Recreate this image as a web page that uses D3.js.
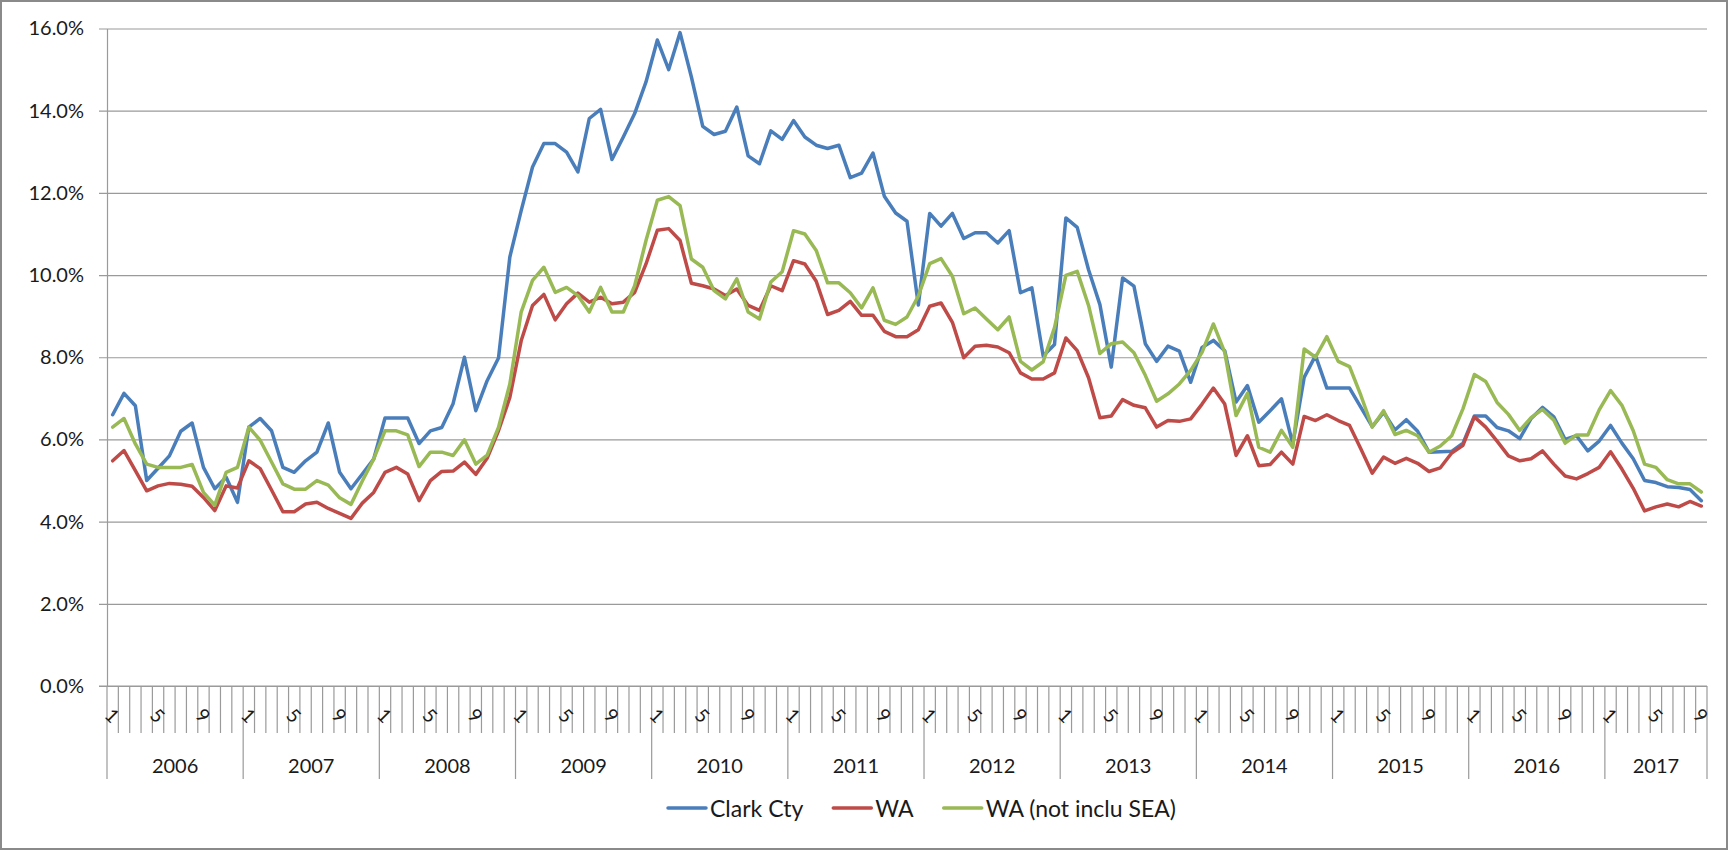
<!DOCTYPE html>
<html>
<head>
<meta charset="utf-8">
<script src="https://cdn.jsdelivr.net/npm/d3@7"></script>
<style>
  html, body { margin: 0; padding: 0; background: #fff; }
  text { font-family: Lato, "Open Sans", sans-serif; fill: #1a1a1a; }
</style>
</head>
<body>
<svg id="chart"></svg>
<script>
var options = {
    width: 1729,
    height: 851,
    plotLeft: 107,
    plotRight: 1707,
    plotTop: 28.5,
    plotBottom: 686,
    yTickLen: 8,
    monthTickBottom: 733,
    yearTickBottom: 779,
    monthLabelY: 715,
    yearLabelY: 765,
    legendY: 808,
    legendX: 668,
    legendLine: 38,
    legendGap: 30,
    lineWidth: 3.5
};

// tick labels / categories
var years = ["2006", "2007", "2008", "2009", "2010", "2011", "2012", "2013", "2014", "2015", "2016", "2017"];
var monthsInLastYear = 9;
var yTicks = [0, 2, 4, 6, 8, 10, 12, 14, 16];
var seriesNames = ["Clark Cty", "WA", "WA (not inclu SEA)"];
var seriesColors = ["#4A7EBB", "#BE4B48", "#98B954"];

// unemployment rate, percent, Jan 2006 - Sep 2017
var clarkCty = [
    6.60, 7.12, 6.82, 5.00, 5.30, 5.60, 6.20, 6.40, 5.32, 4.80, 5.08, 4.47,
    6.30, 6.51, 6.21, 5.32, 5.20, 5.48, 5.69, 6.40, 5.20, 4.80, 5.16, 5.52,
    6.52, 6.52, 6.52, 5.90, 6.21, 6.29, 6.87, 8.00, 6.70, 7.43, 7.98, 10.44,
    11.57, 12.63, 13.20, 13.20, 12.99, 12.51, 13.81, 14.03, 12.81, 13.36, 13.93, 14.70,
    15.72, 15.00, 15.90, 14.82, 13.62, 13.42, 13.50, 14.09, 12.90, 12.71, 13.51, 13.30,
    13.76, 13.36, 13.16, 13.08, 13.16, 12.37, 12.48, 12.97, 11.92, 11.51, 11.31, 9.27,
    11.50, 11.19, 11.50, 10.89, 11.03, 11.03, 10.78, 11.08, 9.57, 9.69, 8.03, 8.31,
    11.39, 11.16, 10.13, 9.28, 7.76, 9.93, 9.73, 8.33, 7.90, 8.27, 8.15, 7.39,
    8.24, 8.41, 8.16, 6.91, 7.31, 6.42, 6.70, 6.99, 5.89, 7.51, 8.04, 7.25,
    7.25, 7.25, 6.78, 6.31, 6.66, 6.23, 6.48, 6.20, 5.69, 5.70, 5.71, 5.91,
    6.57, 6.57, 6.29, 6.21, 6.02, 6.51, 6.78, 6.55, 6.00, 6.09, 5.72, 5.96,
    6.34, 5.91, 5.53, 5.00, 4.95, 4.85, 4.83, 4.78, 4.51
];
var wa = [
    5.48, 5.73, 5.24, 4.75, 4.87, 4.93, 4.91, 4.86, 4.59, 4.27, 4.87, 4.82,
    5.48, 5.29, 4.77, 4.24, 4.24, 4.43, 4.47, 4.32, 4.20, 4.08, 4.45, 4.71,
    5.20, 5.32, 5.16, 4.51, 5.00, 5.22, 5.23, 5.45, 5.15, 5.54, 6.21, 7.02,
    8.40, 9.26, 9.53, 8.91, 9.30, 9.56, 9.34, 9.46, 9.30, 9.34, 9.58, 10.27,
    11.09, 11.13, 10.84, 9.80, 9.74, 9.66, 9.50, 9.66, 9.26, 9.14, 9.74, 9.62,
    10.35, 10.27, 9.85, 9.04, 9.14, 9.36, 9.02, 9.02, 8.63, 8.50, 8.50, 8.67,
    9.24, 9.32, 8.85, 7.99, 8.27, 8.29, 8.25, 8.11, 7.62, 7.47, 7.47, 7.62,
    8.47, 8.16, 7.50, 6.53, 6.57, 6.97, 6.83, 6.77, 6.30, 6.46, 6.44, 6.50,
    6.86, 7.25, 6.86, 5.61, 6.09, 5.36, 5.39, 5.69, 5.40, 6.56, 6.46, 6.60,
    6.46, 6.34, 5.77, 5.18, 5.57, 5.42, 5.54, 5.42, 5.22, 5.31, 5.67, 5.86,
    6.55, 6.30, 5.96, 5.60, 5.48, 5.53, 5.72, 5.40, 5.11, 5.04, 5.17, 5.32,
    5.70, 5.28, 4.81, 4.26, 4.36, 4.43, 4.36, 4.49, 4.38
];
var waNoSea = [
    6.30, 6.51, 5.89, 5.40, 5.32, 5.32, 5.32, 5.39, 4.71, 4.40, 5.20, 5.32,
    6.30, 5.98, 5.45, 4.92, 4.79, 4.79, 5.00, 4.89, 4.58, 4.42, 4.99, 5.52,
    6.21, 6.21, 6.11, 5.34, 5.69, 5.69, 5.61, 5.99, 5.40, 5.62, 6.29, 7.35,
    9.10, 9.87, 10.19, 9.58, 9.70, 9.50, 9.10, 9.70, 9.10, 9.10, 9.74, 10.84,
    11.82, 11.91, 11.69, 10.39, 10.19, 9.62, 9.42, 9.91, 9.10, 8.93, 9.83, 10.08,
    11.08, 11.00, 10.60, 9.81, 9.81, 9.57, 9.20, 9.69, 8.90, 8.80, 8.98, 9.49,
    10.28, 10.40, 9.97, 9.06, 9.20, 8.93, 8.67, 8.98, 7.90, 7.69, 7.89, 8.72,
    9.99, 10.09, 9.26, 8.09, 8.33, 8.37, 8.11, 7.56, 6.93, 7.11, 7.35, 7.68,
    8.12, 8.81, 8.12, 6.58, 7.12, 5.81, 5.69, 6.22, 5.81, 8.20, 8.00, 8.50,
    7.90, 7.77, 7.07, 6.30, 6.70, 6.12, 6.22, 6.09, 5.69, 5.84, 6.09, 6.75,
    7.58, 7.41, 6.90, 6.61, 6.22, 6.53, 6.73, 6.47, 5.91, 6.11, 6.11, 6.72,
    7.19, 6.83, 6.21, 5.40, 5.32, 5.02, 4.92, 4.92, 4.72
];

var series = [clarkCty, wa, waNoSea];

// month categories: {year, month}
var categories = [];
years.forEach(function(y, yi) {
    var n = (yi === years.length - 1) ? monthsInLastYear : 12;
    for (var m = 1; m <= n; m++) {
        categories.push({ year: y, month: m });
    }
});

var svg = d3.select('#chart')
    .attr('width', options.width)
    .attr('height', options.height);

svg.append('rect')
    .attr('x', 1)
    .attr('y', 1)
    .attr('width', options.width - 3)
    .attr('height', options.height - 3)
    .style('fill', '#ffffff')
    .style('stroke', '#8a8a8a')
    .style('stroke-width', 2);

var xScale = d3.scaleBand()
    .domain(d3.range(categories.length))
    .range([options.plotLeft, options.plotRight])
    .paddingInner(0)
    .paddingOuter(0);

var yScale = d3.scaleLinear()
    .domain([0, 16])
    .range([options.plotBottom, options.plotTop]);

// gridlines
var gridAxis = d3.axisLeft(yScale)
    .tickValues(yTicks)
    .tickSize(-(options.plotRight - options.plotLeft + options.yTickLen))
    .tickFormat('');

svg.append('g')
    .attr('class', 'grid')
    .attr('transform', 'translate(' + (options.plotLeft - options.yTickLen) + ',0)')
    .call(gridAxis)
    .call(function(g) { g.select('.domain').remove(); })
    .selectAll('line')
    .style('stroke', '#9a9a9a')
    .style('stroke-width', 1.2);

// y axis labels + axis line
var yAxis = d3.axisLeft(yScale)
    .tickValues(yTicks)
    .tickSize(0)
    .tickPadding(23)
    .tickFormat(function(d) { return d3.format('.1f')(d) + '%'; });

var yG = svg.append('g')
    .attr('class', 'y axis')
    .attr('transform', 'translate(' + options.plotLeft + ',0)')
    .call(yAxis);
yG.select('.domain').style('stroke', '#9a9a9a').style('stroke-width', 1.2);
yG.selectAll('text')
    .style('font-size', '20px')
    .style('font-family', 'Lato, "Open Sans", sans-serif')
    .attr('fill', '#1a1a1a');

// x axis: month and year separators
var xG = svg.append('g').attr('class', 'x axis');
var bounds = d3.range(categories.length + 1);
xG.selectAll('.sep')
    .data(bounds)
    .enter()
    .append('line')
    .attr('class', 'sep')
    .attr('x1', function(i) { return i < categories.length ? xScale(i) : options.plotRight; })
    .attr('x2', function(i) { return i < categories.length ? xScale(i) : options.plotRight; })
    .attr('y1', options.plotBottom)
    .attr('y2', function(i) {
        var isYear = (i === categories.length) || (categories[i].month === 1);
        return isYear ? options.yearTickBottom : options.monthTickBottom;
    })
    .style('stroke', '#9a9a9a')
    .style('stroke-width', 1.2);

xG.append('line')
    .attr('x1', options.plotLeft - options.yTickLen)
    .attr('x2', options.plotRight)
    .attr('y1', options.plotBottom)
    .attr('y2', options.plotBottom)
    .style('stroke', '#9a9a9a')
    .style('stroke-width', 1.2);

// month labels 1, 5, 9
xG.selectAll('.mlabel')
    .data(categories.filter(function(c) { return (c.month - 1) % 4 === 0; }))
    .enter()
    .append('text')
    .attr('class', 'mlabel')
    .attr('transform', function(c) {
        var i = categories.indexOf(c);
        return 'translate(' + (xScale(i) + xScale.bandwidth() / 2) + ',' + options.monthLabelY + ')rotate(45)';
    })
    .attr('text-anchor', 'middle')
    .attr('dominant-baseline', 'central')
    .style('font-size', '19px')
    .text(function(c) { return c.month; });

// year labels
xG.selectAll('.ylabel')
    .data(years)
    .enter()
    .append('text')
    .attr('class', 'ylabel')
    .attr('x', function(y) {
        var idx = categories.map(function(c) { return c.year; });
        var first = idx.indexOf(y), last = idx.lastIndexOf(y);
        var x0 = xScale(first);
        var x1 = last + 1 < categories.length ? xScale(last + 1) : options.plotRight;
        return (x0 + x1) / 2;
    })
    .attr('y', options.yearLabelY)
    .attr('text-anchor', 'middle')
    .attr('dominant-baseline', 'central')
    .style('font-size', '20px')
    .text(function(y) { return y; });

// lines
var line = d3.line()
    .x(function(d, i) { return xScale(i) + xScale.bandwidth() / 2; })
    .y(function(d) { return yScale(d); });

svg.append('g')
    .attr('class', 'lines')
    .selectAll('path')
    .data(series)
    .enter()
    .append('path')
    .attr('d', line)
    .style('fill', 'none')
    .style('stroke', function(d, i) { return seriesColors[i]; })
    .style('stroke-width', options.lineWidth)
    .style('stroke-linejoin', 'round')
    .style('stroke-linecap', 'round');

// legend
var legend = svg.append('g').attr('class', 'legend');
var lx = options.legendX;
seriesNames.forEach(function(name, i) {
    legend.append('line')
        .attr('x1', lx)
        .attr('x2', lx + options.legendLine)
        .attr('y1', options.legendY)
        .attr('y2', options.legendY)
        .style('stroke', seriesColors[i])
        .style('stroke-width', options.lineWidth)
        .style('stroke-linecap', 'round');
    var t = legend.append('text')
        .attr('x', lx + options.legendLine + 4)
        .attr('y', options.legendY)
        .attr('dominant-baseline', 'central')
        .style('font-size', '23px')
        .text(name);
    lx = lx + options.legendLine + 4 + t.node().getComputedTextLength() + options.legendGap;
});
</script>
</body>
</html>
